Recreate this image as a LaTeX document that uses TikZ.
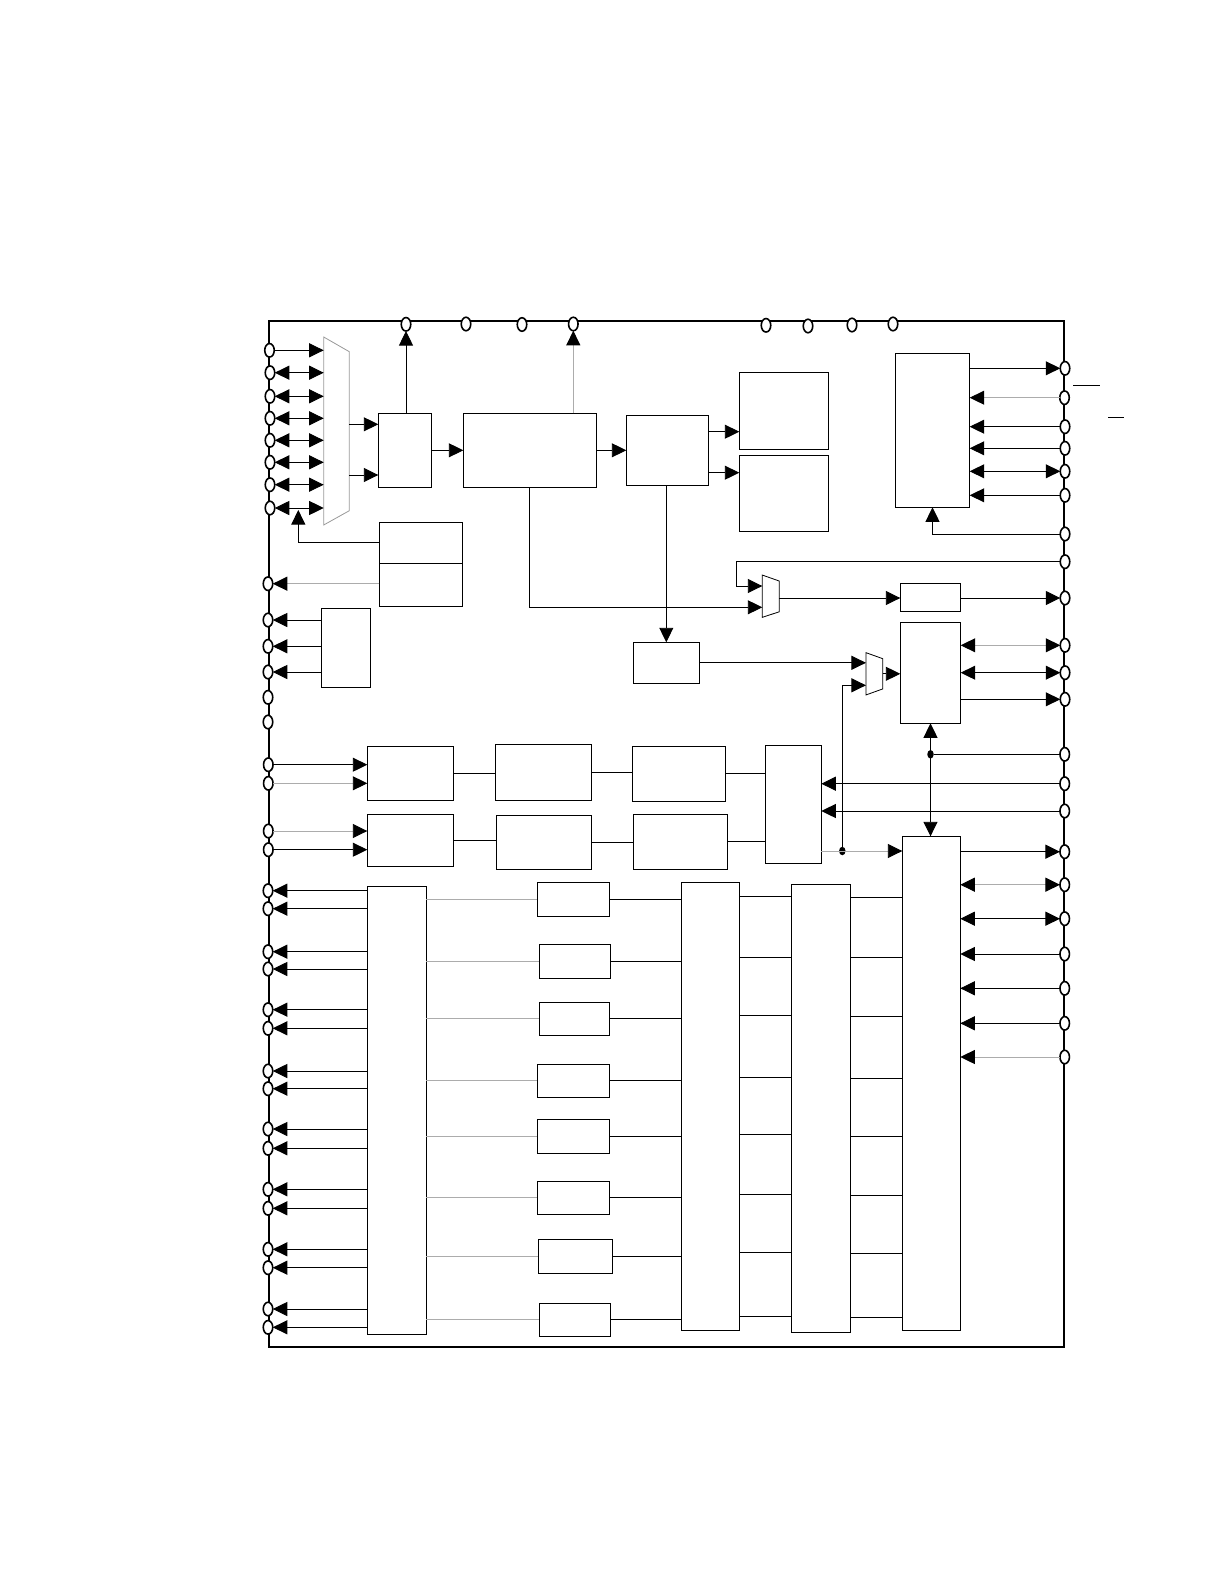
\documentclass[tikz,border=0pt]{standalone}
\usetikzlibrary{shapes.geometric,arrows.meta}

\begin{document}
\begin{tikzpicture}[
    x=1pt, y=-1pt,
    box/.style={rectangle, draw, line width=0.9pt, inner sep=0pt, outer sep=0pt},
    chip/.style={rectangle, draw, line width=2pt, inner sep=0pt, outer sep=0pt},
    muxbody/.style={rectangle, inner sep=0pt, outer sep=0pt},
    muxline/.style={draw=gray!80, line width=0.8pt, fill=white},
    pad/.style={ellipse, draw, fill=white, line width=1.6pt, minimum width=9.5pt, minimum height=13.5pt, inner sep=0pt, outer sep=0pt},
    junct/.style={ellipse, fill=black, minimum width=6.5pt, minimum height=8.5pt, inner sep=0pt, outer sep=0pt},
    >={Triangle[length=14.5pt,width=14pt,black]},
    wire/.style={line width=0.9pt},
    faint/.style={line width=0.9pt, draw=gray!65},
    arrow/.style={->, line width=0.9pt},
    biarrow/.style={<->, line width=0.9pt},
    faintarrow/.style={->, line width=0.9pt, draw=gray!65},
    faintbi/.style={<->, line width=0.9pt, draw=gray!65},
]
\useasboundingbox (0,0) rectangle (1224,1584);

% Chip outline
\node[chip, minimum width=795pt, minimum height=1026pt] (chipedge) at (666.5,834) {};

% Input mux
\node[muxbody, minimum width=25.6pt, minimum height=188pt] (muxA) at (336.5,431) {};
\draw[muxline] (muxA.north west) -- ([yshift=-14.7pt]muxA.north east) -- ([yshift=14.3pt]muxA.south east) -- (muxA.south west) -- cycle;

% Top row
\node[box, minimum width=53.4pt, minimum height=74pt] (boxA) at (405,450.3) {};
\node[box, minimum width=133pt, minimum height=74pt] (boxB) at (529.8,450.3) {};
\node[box, minimum width=82pt, minimum height=70pt] (boxC) at (667.3,450.3) {};
\node[box, minimum width=89pt, minimum height=77pt] (memA) at (783.8,410.8) {};
\node[box, minimum width=89pt, minimum height=76pt] (memB) at (783.8,493.3) {};
\node[box, minimum width=74.4pt, minimum height=154pt] (boxR) at (932.5,430.3) {};

% Left side blocks
\node[box, minimum width=83pt, minimum height=41pt] (boxDa) at (420.8,542.8) {};
\node[box, minimum width=83pt, minimum height=43pt] (boxDb) at (420.8,584.8) {};
\node[box, minimum width=49pt, minimum height=79pt] (boxE) at (345.8,647.8) {};
\node[box, minimum width=66pt, minimum height=41pt] (boxF) at (666.3,662.8) {};

% Small muxes and right blocks
\node[muxbody, minimum width=17pt, minimum height=42.3pt] (muxB) at (770.8,596.2) {};
\draw[muxline, draw=black] (muxB.north west) -- ([yshift=-6pt]muxB.north east) -- ([yshift=5.6pt]muxB.south east) -- (muxB.south west) -- cycle;
\node[muxbody, minimum width=16.7pt, minimum height=42.3pt] (muxC) at (874.3,673.8) {};
\draw[muxline, draw=black] (muxC.north west) -- ([yshift=-6pt]muxC.north east) -- ([yshift=6pt]muxC.south east) -- (muxC.south west) -- cycle;
\node[box, minimum width=60.4pt, minimum height=28pt] (boxS) at (930.5,597.3) {};
\node[box, minimum width=60.4pt, minimum height=101pt] (boxT) at (930.5,672.8) {};

% Two middle rows
\node[box, minimum width=86pt, minimum height=54pt] (rowAa) at (410.3,773.3) {};
\node[box, minimum width=96pt, minimum height=56pt] (rowAb) at (543.3,772.3) {};
\node[box, minimum width=93pt, minimum height=55pt] (rowAc) at (678.8,773.8) {};
\node[box, minimum width=86pt, minimum height=52pt] (rowBa) at (410.3,840.3) {};
\node[box, minimum width=95pt, minimum height=54pt] (rowBb) at (543.8,842.3) {};
\node[box, minimum width=94pt, minimum height=55pt] (rowBc) at (680.3,841.8) {};
\node[box, minimum width=56pt, minimum height=118pt] (boxG) at (793.3,804.3) {};

% Tall columns
\node[box, minimum width=59pt, minimum height=448pt] (colI) at (396.8,1110.3) {};
\node[box, minimum width=58.4pt, minimum height=448pt] (colA) at (710.5,1106.3) {};
\node[box, minimum width=59pt, minimum height=448pt] (colB) at (820.8,1108.3) {};
\node[box, minimum width=58pt, minimum height=494pt] (boxH) at (931.3,1083.3) {};

% Eight channel blocks
\node[box, minimum width=72pt, minimum height=34pt] (chA) at (573.3,899.3) {};
\node[box, minimum width=71pt, minimum height=34pt] (chB) at (574.8,961.3) {};
\node[box, minimum width=70pt, minimum height=33pt] (chC) at (574.3,1018.8) {};
\node[box, minimum width=72pt, minimum height=33pt] (chD) at (573.3,1080.8) {};
\node[box, minimum width=72pt, minimum height=34pt] (chE) at (573.3,1136.3) {};
\node[box, minimum width=72pt, minimum height=33pt] (chF) at (573.3,1197.8) {};
\node[box, minimum width=74pt, minimum height=34pt] (chG) at (575.3,1256.3) {};
\node[box, minimum width=71pt, minimum height=33pt] (chH) at (574.8,1319.8) {};

% Pads on top edge
\node[pad] (padTa) at (406,324.3) {};
\node[pad] (padTb) at (466,324) {};
\node[pad] (padTc) at (522,324.5) {};
\node[pad] (padTd) at (573.3,324) {};
\node[pad] (padTe) at (766,325.3) {};
\node[pad] (padTf) at (808,326) {};
\node[pad] (padTg) at (852,325) {};
\node[pad] (padTh) at (893,324) {};

% Pads on left edge
\node[pad] (padLa) at (269.5,350.3) {};
\node[pad] (padLb) at (270,372.7) {};
\node[pad] (padLc) at (270,396.3) {};
\node[pad] (padLd) at (270,418.3) {};
\node[pad] (padLe) at (270,440.3) {};
\node[pad] (padLf) at (270,462.3) {};
\node[pad] (padLg) at (270,484.7) {};
\node[pad] (padLh) at (270,508) {};
\node[pad] (padLi) at (268,583.7) {};
\node[pad] (padLj) at (268,620) {};
\node[pad] (padLk) at (268,646.3) {};
\node[pad] (padLl) at (268,672) {};
\node[pad] (padLm) at (268,697.3) {};
\node[pad] (padLn) at (268,722) {};
\node[pad] (padLo) at (268.3,764.7) {};
\node[pad] (padLp) at (268.3,783.3) {};
\node[pad] (padLq) at (268.3,831) {};
\node[pad] (padLr) at (268.3,849.7) {};
\node[pad] (padOa) at (268,890.7) {};
\node[pad] (padOb) at (268,908.7) {};
\node[pad] (padOc) at (268,951.7) {};
\node[pad] (padOd) at (268,969) {};
\node[pad] (padOe) at (268,1009.7) {};
\node[pad] (padOf) at (268,1028.3) {};
\node[pad] (padOg) at (268,1071) {};
\node[pad] (padOh) at (268,1088.7) {};
\node[pad] (padOi) at (268,1129) {};
\node[pad] (padOj) at (268,1148.3) {};
\node[pad] (padOk) at (268,1189.3) {};
\node[pad] (padOl) at (268,1208.3) {};
\node[pad] (padOm) at (268,1249.3) {};
\node[pad] (padOn) at (268,1267.7) {};
\node[pad] (padOo) at (268,1309) {};
\node[pad] (padOp) at (268,1327.3) {};

% Pads on right edge
\node[pad] (padRa) at (1065,368.3) {};
\node[pad] (padRb) at (1064.5,397.7) {};
\node[pad] (padRc) at (1065,426.7) {};
\node[pad] (padRd) at (1065,448.3) {};
\node[pad] (padRe) at (1065,471.3) {};
\node[pad] (padRf) at (1065,495.3) {};
\node[pad] (padRg) at (1065,534) {};
\node[pad] (padRh) at (1065,561.7) {};
\node[pad] (padRi) at (1065,598) {};
\node[pad] (padRj) at (1065,645.3) {};
\node[pad] (padRk) at (1065,672.7) {};
\node[pad] (padRl) at (1065,699.3) {};
\node[pad] (padRm) at (1064.7,754.3) {};
\node[pad] (padRn) at (1064.7,783.7) {};
\node[pad] (padRo) at (1064.7,811) {};
\node[pad] (padRp) at (1064.7,851.7) {};
\node[pad] (padRq) at (1064.7,884.7) {};
\node[pad] (padRr) at (1064.7,918.7) {};
\node[pad] (padRs) at (1064.7,954) {};
\node[pad] (padRt) at (1064.7,988.3) {};
\node[pad] (padRu) at (1064.7,1023.3) {};
\node[pad] (padRv) at (1064.7,1057) {};

% Bars beside the right edge
\coordinate (barAl) at (1073.3,385.3);
\coordinate (barAr) at (1100,385.3);
\coordinate (barBl) at (1108.3,417.3);
\coordinate (barBr) at (1124.3,417.3);
\draw[wire] (barAl) -- (barAr);
\draw[wire] (barBl) -- (barBr);

% Left pads into input mux
\draw[arrow] (padLa) -- (padLa -| muxA.west);
\draw[biarrow] (padLb) -- (padLb -| muxA.west);
\draw[biarrow] (padLc) -- (padLc -| muxA.west);
\draw[biarrow] (padLd) -- (padLd -| muxA.west);
\draw[biarrow] (padLe) -- (padLe -| muxA.west);
\draw[biarrow] (padLf) -- (padLf -| muxA.west);
\draw[biarrow] (padLg) -- (padLg -| muxA.west);
\draw[biarrow] (padLh) -- (padLh -| muxA.west);

% Top row connections
\draw[arrow] (muxA.east |- 0,424.3) -- (boxA.west |- 0,424.3);
\draw[arrow] (muxA.east |- 0,475) -- (boxA.west |- 0,475);
\draw[arrow] (boxA.north -| padTa) -- (padTa);
\draw[faintarrow] (boxB.north -| padTd) -- (padTd);
\draw[arrow] (boxA.east) -- (boxB.west);
\draw[arrow] (boxB.east) -- (boxC.west);
\draw[arrow] (boxC.east |- 0,431.7) -- (memA.west |- 0,431.7);
\draw[arrow] (boxC.east |- 0,472.7) -- (memB.west |- 0,472.7);

% Left side block connections
\coordinate (tapL) at (298.3,510);
\draw[arrow] (boxDa.west) -| (tapL);
\draw[faintarrow] (boxDb.west |- padLi) -- (padLi);
\draw[arrow] (boxE.west |- padLj) -- (padLj);
\draw[arrow] (boxE.west |- padLk) -- (padLk);
\draw[arrow] (boxE.west |- padLl) -- (padLl);

% Right block pads
\draw[arrow] (boxR.east |- padRa) -- (padRa);
\draw[faintarrow] (padRb) -- (padRb -| boxR.east);
\draw[arrow] (padRc) -- (padRc -| boxR.east);
\draw[arrow] (padRd) -- (padRd -| boxR.east);
\draw[biarrow] (boxR.east |- padRe) -- (padRe);
\draw[arrow] (padRf) -- (padRf -| boxR.east);
\draw[arrow] (padRg) -| (boxR.south);

% Mux paths
\coordinate (bendA) at (736.3,586);
\draw[arrow] (padRh) -| (bendA) -- (muxB.west |- bendA);
\draw[arrow] (boxB.south) |- (muxB.west |- 0,607.3);
\draw[arrow] (boxF.north |- boxC.south) -- (boxF.north);
\draw[arrow] (muxB.east |- padRi) -- (boxS.west |- padRi);
\draw[arrow] (padRi -| boxS.east) -- (padRi);
\draw[arrow] (boxF.east) -- (boxF.east -| muxC.west);
\draw[arrow] (muxC.east) -- (muxC.east -| boxT.west);
\draw[faintbi] (boxT.east |- padRj) -- (padRj);
\draw[biarrow] (boxT.east |- padRk) -- (padRk);
\draw[arrow] (boxT.east |- padRl) -- (padRl);

% Middle rows
\draw[arrow] (padLo) -- (padLo -| rowAa.west);
\draw[faintarrow] (padLp) -- (padLp -| rowAa.west);
\draw[faintarrow] (padLq) -- (padLq -| rowBa.west);
\draw[arrow] (padLr) -- (padLr -| rowBa.west);
\draw[wire] (rowAa.east) -- (rowAa.east -| rowAb.west);
\draw[wire] (rowAb.east) -- (rowAb.east -| rowAc.west);
\draw[wire] (rowAc.east) -- (rowAc.east -| boxG.west);
\draw[wire] (rowBa.east) -- (rowBa.east -| rowBb.west);
\draw[wire] (rowBb.east) -- (rowBb.east -| rowBc.west);
\draw[wire] (rowBc.east) -- (rowBc.east -| boxG.west);
\draw[arrow] (padRn) -- (padRn -| boxG.east);
\draw[arrow] (padRo) -- (padRo -| boxG.east);

% Tap from G block
\node[junct] (tapG) at (842.3,851) {};
\draw[faintarrow] (boxG.east |- tapG) -- (boxH.west |- tapG);
\draw[arrow] (tapG) |- (muxC.west |- 0,685.3);

% Shared line between T and H
\node[junct] (tapH) at (boxT.south |- padRm) {};
\draw[biarrow] (boxT.south) -- (boxT.south |- boxH.north);
\draw[wire] (padRm) -- (tapH);

% H block pads
\draw[arrow] (boxH.east |- padRp) -- (padRp);
\draw[faintbi] (boxH.east |- padRq) -- (padRq);
\draw[biarrow] (boxH.east |- padRr) -- (padRr);
\draw[arrow] (padRs) -- (padRs -| boxH.east);
\draw[arrow] (padRt) -- (padRt -| boxH.east);
\draw[arrow] (padRu) -- (padRu -| boxH.east);
\draw[faintarrow] (padRv) -- (padRv -| boxH.east);

% Output column to left pads
\draw[arrow] (colI.west |- padOa) -- (padOa);
\draw[arrow] (colI.west |- padOb) -- (padOb);
\draw[arrow] (colI.west |- padOc) -- (padOc);
\draw[arrow] (colI.west |- padOd) -- (padOd);
\draw[arrow] (colI.west |- padOe) -- (padOe);
\draw[arrow] (colI.west |- padOf) -- (padOf);
\draw[arrow] (colI.west |- padOg) -- (padOg);
\draw[arrow] (colI.west |- padOh) -- (padOh);
\draw[arrow] (colI.west |- padOi) -- (padOi);
\draw[arrow] (colI.west |- padOj) -- (padOj);
\draw[arrow] (colI.west |- padOk) -- (padOk);
\draw[arrow] (colI.west |- padOl) -- (padOl);
\draw[arrow] (colI.west |- padOm) -- (padOm);
\draw[arrow] (colI.west |- padOn) -- (padOn);
\draw[arrow] (colI.west |- padOo) -- (padOo);
\draw[arrow] (colI.west |- padOp) -- (padOp);

% Channels
\draw[faint] (chA.west -| colI.east) -- (chA.west);
\draw[faint] (chB.west -| colI.east) -- (chB.west);
\draw[faint] (chC.west -| colI.east) -- (chC.west);
\draw[faint] (chD.west -| colI.east) -- (chD.west);
\draw[faint] (chE.west -| colI.east) -- (chE.west);
\draw[faint] (chF.west -| colI.east) -- (chF.west);
\draw[faint] (chG.west -| colI.east) -- (chG.west);
\draw[faint] (chH.west -| colI.east) -- (chH.west);
\draw[wire] (chA.east) -- (chA.east -| colA.west);
\draw[wire] (chB.east) -- (chB.east -| colA.west);
\draw[wire] (chC.east) -- (chC.east -| colA.west);
\draw[wire] (chD.east) -- (chD.east -| colA.west);
\draw[wire] (chE.east) -- (chE.east -| colA.west);
\draw[wire] (chF.east) -- (chF.east -| colA.west);
\draw[wire] (chG.east) -- (chG.east -| colA.west);
\draw[wire] (chH.east) -- (chH.east -| colA.west);

% Between the tall columns
\draw[wire] (colA.east |- 0,896) -- (colB.west |- 0,896);
\draw[wire] (colA.east |- 0,957.3) -- (colB.west |- 0,957.3);
\draw[wire] (colA.east |- 0,1015.3) -- (colB.west |- 0,1015.3);
\draw[wire] (colA.east |- 0,1077.3) -- (colB.west |- 0,1077.3);
\draw[wire] (colA.east |- 0,1134.3) -- (colB.west |- 0,1134.3);
\draw[wire] (colA.east |- 0,1194.3) -- (colB.west |- 0,1194.3);
\draw[wire] (colA.east |- 0,1252.3) -- (colB.west |- 0,1252.3);
\draw[wire] (colA.east |- 0,1316.3) -- (colB.west |- 0,1316.3);
\draw[wire] (colB.east |- 0,897.3) -- (boxH.west |- 0,897.3);
\draw[wire] (colB.east |- 0,957.3) -- (boxH.west |- 0,957.3);
\draw[wire] (colB.east |- 0,1016.3) -- (boxH.west |- 0,1016.3);
\draw[wire] (colB.east |- 0,1078.3) -- (boxH.west |- 0,1078.3);
\draw[wire] (colB.east |- 0,1136.3) -- (boxH.west |- 0,1136.3);
\draw[wire] (colB.east |- 0,1195.3) -- (boxH.west |- 0,1195.3);
\draw[wire] (colB.east |- 0,1253.3) -- (boxH.west |- 0,1253.3);
\draw[wire] (colB.east |- 0,1317.3) -- (boxH.west |- 0,1317.3);

\end{tikzpicture}
\end{document}
